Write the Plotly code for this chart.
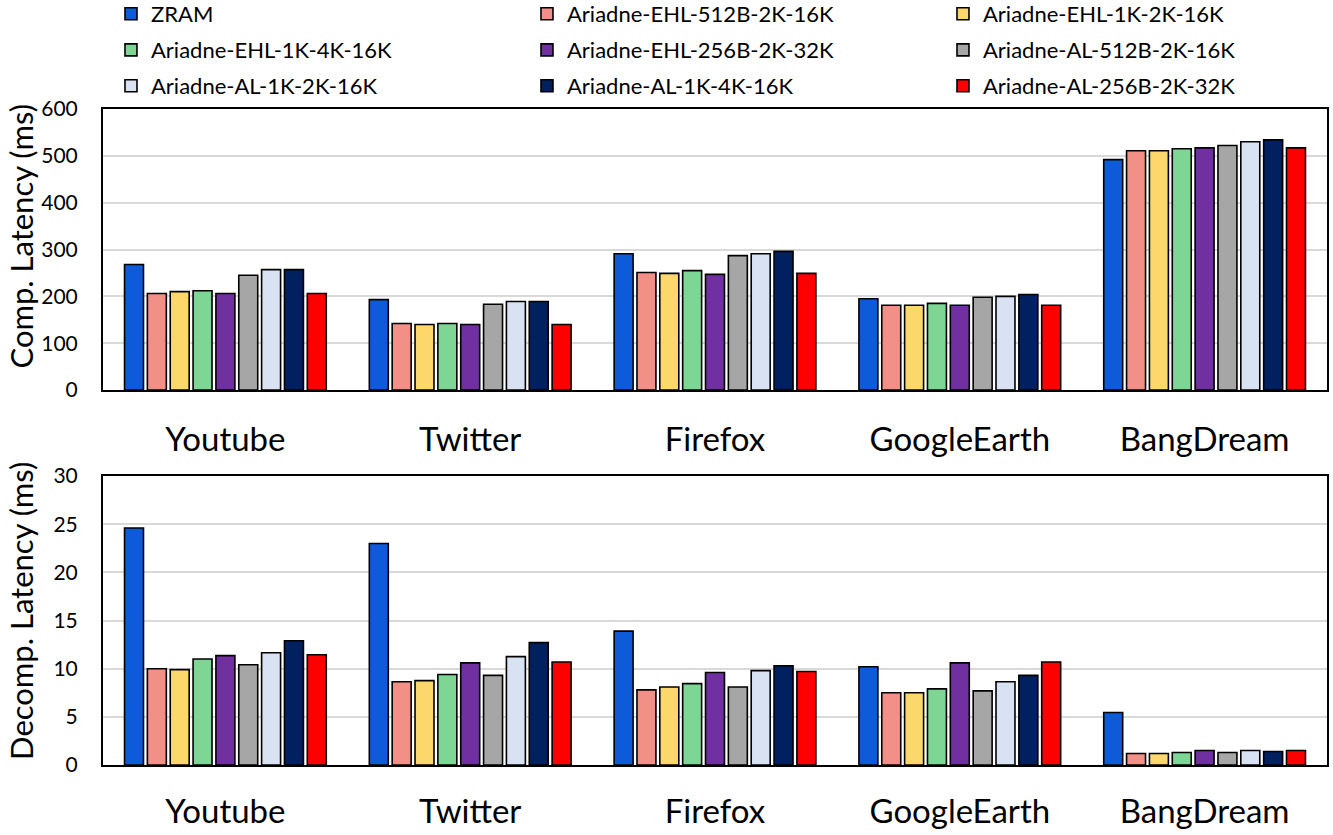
import plotly.graph_objects as go

categories = ["Youtube", "Twitter", "Firefox", "GoogleEarth", "BangDream"]
series_names = [
    "ZRAM", "Ariadne-EHL-512B-2K-16K", "Ariadne-EHL-1K-2K-16K",
    "Ariadne-EHL-1K-4K-16K", "Ariadne-EHL-256B-2K-32K", "Ariadne-AL-512B-2K-16K",
    "Ariadne-AL-1K-2K-16K", "Ariadne-AL-1K-4K-16K", "Ariadne-AL-256B-2K-32K",
]
colors = ["#0E5BD9", "#F29088", "#FCD76C", "#7DD694", "#7030A0",
          "#A6A6A6", "#D9E2F3", "#002060", "#FF0000"]

comp_zram = [268, 193, 291, 195, 492]
comp_ehl_512b_2k_16k = [206, 142, 251, 181, 511]
comp_ehl_1k_2k_16k = [210, 140, 249, 181, 511]
comp_ehl_1k_4k_16k = [212, 142, 255, 185, 515]
comp_ehl_256b_2k_32k = [206, 140, 247, 181, 517]
comp_al_512b_2k_16k = [245, 183, 287, 198, 522]
comp_al_1k_2k_16k = [257, 189, 291, 200, 530]
comp_al_1k_4k_16k = [257, 189, 296, 204, 534]
comp_al_256b_2k_32k = [206, 140, 249, 181, 517]

decomp_zram = [24.6, 23.0, 13.9, 10.2, 5.45]
decomp_ehl_512b_2k_16k = [10.0, 8.65, 7.8, 7.5, 1.2]
decomp_ehl_1k_2k_16k = [9.9, 8.76, 8.1, 7.5, 1.2]
decomp_ehl_1k_4k_16k = [11.0, 9.4, 8.45, 7.9, 1.3]
decomp_ehl_256b_2k_32k = [11.35, 10.6, 9.6, 10.6, 1.5]
decomp_al_512b_2k_16k = [10.4, 9.3, 8.1, 7.7, 1.3]
decomp_al_1k_2k_16k = [11.65, 11.25, 9.8, 8.65, 1.5]
decomp_al_1k_4k_16k = [12.9, 12.7, 10.3, 9.3, 1.4]
decomp_al_256b_2k_32k = [11.45, 10.7, 9.7, 10.7, 1.5]

comp_series = [comp_zram, comp_ehl_512b_2k_16k, comp_ehl_1k_2k_16k, comp_ehl_1k_4k_16k,
               comp_ehl_256b_2k_32k, comp_al_512b_2k_16k, comp_al_1k_2k_16k,
               comp_al_1k_4k_16k, comp_al_256b_2k_32k]
decomp_series = [decomp_zram, decomp_ehl_512b_2k_16k, decomp_ehl_1k_2k_16k,
                 decomp_ehl_1k_4k_16k, decomp_ehl_256b_2k_32k, decomp_al_512b_2k_16k,
                 decomp_al_1k_2k_16k, decomp_al_1k_4k_16k, decomp_al_256b_2k_32k]

comp_ticks = [0, 100, 200, 300, 400, 500, 600]
decomp_ticks = [0, 5, 10, 15, 20, 25, 30]
comp_title = "Comp. Latency (ms)"
decomp_title = "Decomp. Latency (ms)"

FONT = "Lato"
legend_ids = ["legend", "legend2", "legend3"]

fig = go.Figure()
for i, (name, col, vals) in enumerate(zip(series_names, colors, comp_series)):
    fig.add_trace(go.Bar(x=categories, y=vals, name=name, marker_color=col,
                         marker_line=dict(color="black", width=1.6),
                         xaxis="x", yaxis="y", legend=legend_ids[i // 3]))
for name, col, vals in zip(series_names, colors, decomp_series):
    fig.add_trace(go.Bar(x=categories, y=vals, name=name, marker_color=col,
                         marker_line=dict(color="black", width=1.6),
                         xaxis="x2", yaxis="y2", showlegend=False))

axis_common = dict(showline=True, linecolor="black", linewidth=2, mirror=True,
                   automargin=False)


def legend_row(ypos):
    return dict(orientation="h", x=-0.00001, xanchor="left", y=ypos, yanchor="middle",
                font=dict(size=22, family=FONT), entrywidth=371, itemwidth=30,
                borderwidth=8, bordercolor="rgba(0,0,0,0)", bgcolor="rgba(0,0,0,0)",
                traceorder="normal")


fig.update_layout(
    width=1333, height=835,
    paper_bgcolor="white", plot_bgcolor="white",
    font=dict(family=FONT, color="black"),
    margin=dict(l=103, r=6, t=109, b=70, autoexpand=False),
    barmode="group", bargap=0.16, bargroupgap=0.17,
    legend=legend_row(1.1448),
    legend2=legend_row(1.0899),
    legend3=legend_row(1.0351),
    xaxis=dict(domain=[0, 1], anchor="y", ticks="outside", ticklen=0,
               ticklabelstandoff=19, tickfont=dict(size=33), **axis_common),
    yaxis=dict(domain=[0.5716, 1], anchor="x", range=[0, 600], tickvals=comp_ticks,
               showgrid=True, gridcolor="#D9D9D9", gridwidth=1.5,
               tickfont=dict(size=21), ticks="outside", ticklen=0, ticklabelstandoff=19,
               **axis_common),
    xaxis2=dict(domain=[0, 1], anchor="y2", ticks="outside", ticklen=0,
                ticklabelstandoff=16, tickfont=dict(size=33), **axis_common),
    yaxis2=dict(domain=[0, 0.4405], anchor="x2", range=[0, 30], tickvals=decomp_ticks,
                showgrid=True, gridcolor="#D9D9D9", gridwidth=1.5,
                tickfont=dict(size=21), ticks="outside", ticklen=0, ticklabelstandoff=19,
                **axis_common),
    annotations=[
        dict(text=comp_title, xref="paper", yref="paper", x=-0.0670, y=0.8056,
             xanchor="center", yanchor="middle", textangle=-90, showarrow=False,
             font=dict(size=31, family=FONT)),
        dict(text=decomp_title, xref="paper", yref="paper", x=-0.0670, y=0.2348,
             xanchor="center", yanchor="middle", textangle=-90, showarrow=False,
             font=dict(size=31, family=FONT)),
    ],
)

fig.write_html("out.html", config={"displayModeBar": False},
               post_script="document.body.style.margin='0';"
                           "document.body.style.overflow='hidden';")
